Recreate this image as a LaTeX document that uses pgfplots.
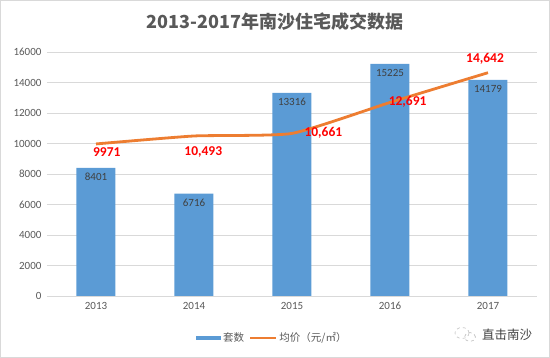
\documentclass[border=0pt]{standalone}
\usepackage{pgfplots}
\pgfplotsset{compat=1.18}
\usepackage{fontspec}
\setmainfont{Carlito}
\newfontfamily\cjk{Noto Sans CJK SC}
\definecolor{barblue}{HTML}{5B9BD5}
\definecolor{lineorange}{HTML}{ED7D31}
\definecolor{txtgray}{HTML}{595959}
\definecolor{gridgray}{HTML}{D9D9D9}
\definecolor{lblred}{HTML}{FF0000}
\definecolor{barlbl}{HTML}{404040}
\begin{document}
\begin{tikzpicture}
\path[use as bounding box] (-47pt,-62pt) rectangle (503pt,296pt);
\draw[gridgray, line width=1pt] (-46.5pt,-61.5pt) rectangle (502.5pt,295.5pt);
\node[font=\cjk\bfseries\fontsize{18}{20}\selectfont, text=txtgray] at (228pt,274pt) {2013-2017年南沙住宅成交数据};
\begin{axis}[
  scale only axis, width=490pt, height=244pt,
  xmin=-0.5, xmax=4.5, ymin=0, ymax=16000,
  xtick={0,1,2,3,4}, xticklabels={2013,2014,2015,2016,2017},
  ytick={0,2000,...,16000},
  scaled y ticks=false,
  ymajorgrids, grid style={gridgray, line width=0.8pt},
  axis line style={draw=none}, tick style={draw=none},
  /pgf/number format/1000 sep={},
  /pgf/number format/assume math mode=true,
  tick label style={font=\fontsize{11}{12}\selectfont, text=txtgray},
  xticklabel style={yshift=-3pt},
  yticklabel style={xshift=-2pt},
  legend style={at={(0.46,-0.172)}, anchor=center, draw=none, fill=none,
    legend columns=2, font=\cjk\fontsize{10.5}{12}\selectfont, text=txtgray,
    /tikz/every even column/.append style={column sep=3pt}, inner sep=0pt},
  legend cell align=left,
]
\addplot[ybar, bar width=39pt, fill=barblue, draw=none,
  nodes near coords,
  nodes near coords style={anchor=north, yshift=-2pt, font=\fontsize{11}{12}\selectfont, text=barlbl},
  legend image code/.code={\fill[barblue] (0pt,-2.4pt) rectangle (25pt,2.4pt);}]
  coordinates {(0,8401) (1,6716) (2,13316) (3,15225) (4,14179)};
\addlegendentry{套数}
\addplot[smooth, tension=0.3, lineorange, line width=2.8pt, mark=none,
  legend image code/.code={\draw[lineorange, line width=2.2pt] (0pt,0pt) -- (26pt,0pt);}]
  coordinates {(0,9971) (1,10493) (2,10661) (3,12691) (4,14642)};
\addlegendentry{均价（元/㎡）}
\begin{scope}[every node/.style={font=\bfseries\fontsize{13.5}{15}\selectfont, text=lblred}]
\node at (axis cs:0.11,9446) {9971};
\node at (axis cs:1.095,9466) {10,493};
\node at (axis cs:2.32,10693) {10,661};
\node at (axis cs:3.18,12726) {12,691};
\node at (axis cs:3.97,15547) {14,642};
\end{scope}
\end{axis}
\draw[gray!45, dashed, line width=0.7pt] (415pt,-37pt) ellipse (7pt and 5.5pt);
\draw[gray!45, dashed, line width=0.7pt] (423pt,-41pt) ellipse (5.5pt and 4.5pt);
\node[font=\cjk\fontsize{12.5}{14}\selectfont, text=barlbl] at (460pt,-39pt) {直击南沙};
\end{tikzpicture}
\end{document}
